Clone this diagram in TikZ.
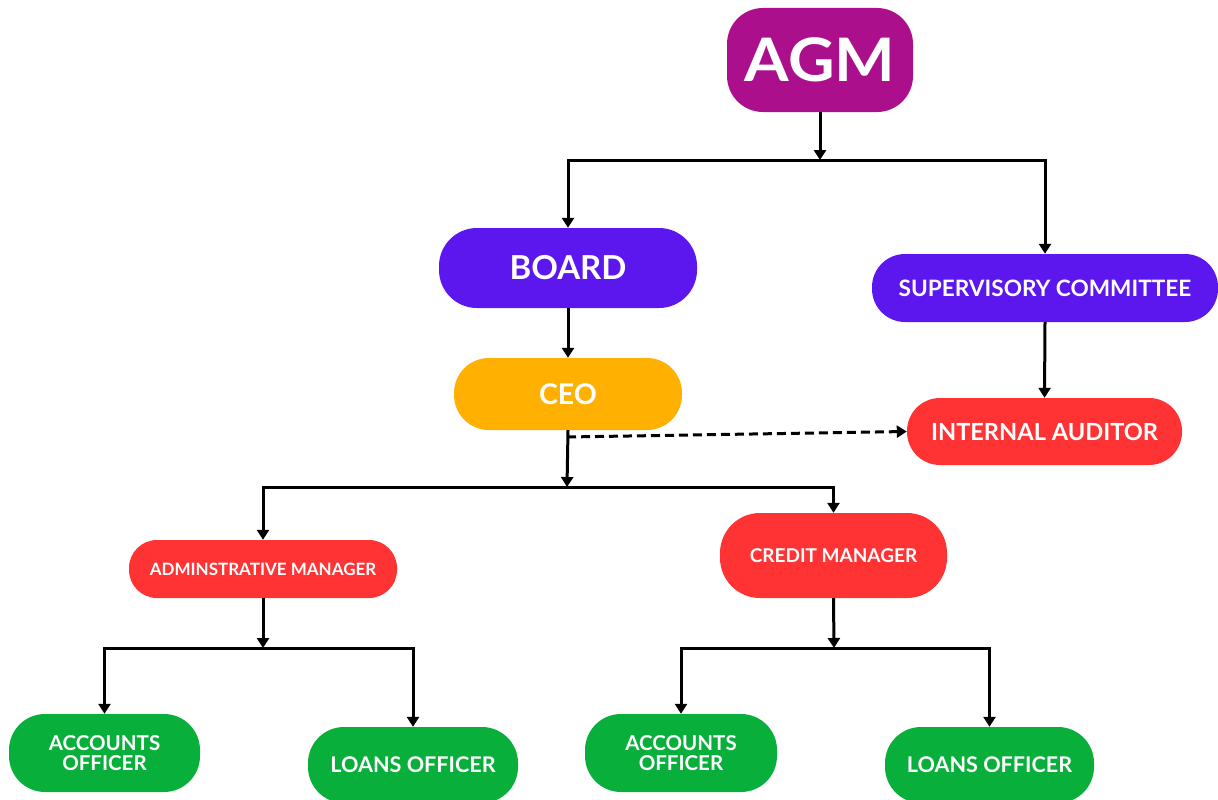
\documentclass[tikz,border=0pt]{standalone}
\usepackage{fontspec}
\setmainfont{Lato}
\usetikzlibrary{arrows.meta}
\definecolor{agmc}{HTML}{AB0F8B}
\definecolor{boardc}{HTML}{5C17EE}
\definecolor{ceoc}{HTML}{FFB000}
\definecolor{redc}{HTML}{FF3333}
\definecolor{greenc}{HTML}{08AF3B}
\tikzset{
  box/.style={rectangle, inner sep=0pt, text=white, font=\bfseries, align=center},
  arr/.style={line width=3pt, -{Triangle[width=12pt,length=10pt]}},
}
\begin{document}
\begin{tikzpicture}[x=1pt,y=-1pt]
\useasboundingbox (0,0) rectangle (1218,800);
\node[box, fill=agmc, minimum width=186pt, minimum height=104pt, rounded corners=36pt, font=\bfseries\fontsize{60}{62}\selectfont] (agm) at (820,60) {\scalebox{1.07}[1]{AGM}};
\node[box, fill=boardc, minimum width=258pt, minimum height=80pt, rounded corners=38pt, font=\bfseries\fontsize{33}{35}\selectfont] (board) at (568,268) {BOARD};
\node[box, fill=boardc, minimum width=346pt, minimum height=68pt, rounded corners=33pt, font=\bfseries\fontsize{22.6}{24}\selectfont] (sup) at (1045,288) {SUPERVISORY COMMITTEE};
\node[box, fill=ceoc, minimum width=228pt, minimum height=72pt, rounded corners=35pt, font=\bfseries\fontsize{28.5}{30}\selectfont] (ceo) at (568,394) {CEO};
\node[box, fill=redc, minimum width=275pt, minimum height=67pt, rounded corners=33pt, font=\bfseries\fontsize{23.6}{25}\selectfont] (ia) at (1044.5,431.5) {INTERNAL AUDITOR};
\node[box, fill=redc, minimum width=268pt, minimum height=58pt, rounded corners=28pt, font=\bfseries\fontsize{17}{19}\selectfont] (adm) at (263,569) {ADMINSTRATIVE MANAGER};
\node[box, fill=redc, minimum width=227pt, minimum height=85pt, rounded corners=40pt, font=\bfseries\fontsize{19}{21}\selectfont] (cm) at (833.5,555.5) {CREDIT MANAGER};
\node[box, fill=greenc, minimum width=191pt, minimum height=78pt, rounded corners=36pt, font=\bfseries\fontsize{20.5}{20.5}\selectfont] (ao1) at (104.5,753) {ACCOUNTS\\OFFICER};
\node[box, fill=greenc, minimum width=210pt, minimum height=76pt, rounded corners=36pt, font=\bfseries\fontsize{21.6}{23}\selectfont] (lo1) at (413,765) {LOANS OFFICER};
\node[box, fill=greenc, minimum width=192pt, minimum height=78pt, rounded corners=36pt, font=\bfseries\fontsize{20.5}{20.5}\selectfont] (ao2) at (681,753) {ACCOUNTS\\OFFICER};
\node[box, fill=greenc, minimum width=209pt, minimum height=76pt, rounded corners=36pt, font=\bfseries\fontsize{21.6}{23}\selectfont] (lo2) at (989.5,765) {LOANS OFFICER};
% junctions
\coordinate (j1) at (820,160);
\coordinate (j2) at (567,487);
\coordinate (j3) at (263,648);
\coordinate (j4) at (834,648);
\coordinate (d0) at (567,437);
% connectors
\draw[arr] (agm.south) -- (j1);
\draw[arr] (j1) -| (board.north);
\draw[arr] (j1) -| (sup.north);
\draw[arr] (board.south) -- (ceo.north);
\draw[arr] (sup.south) -- (ia.north);
\draw[arr, dash pattern=on 9pt off 5pt] (d0) -- (ia.west);
\draw[arr] (ceo.south) -- (j2);
\draw[arr] (j2) -| (adm.north);
\draw[arr] (j2) -| (cm.north);
\draw[arr] (adm.south) -- (j3);
\draw[arr] (j3) -| (ao1.north);
\draw[arr] (j3) -| (lo1.north);
\draw[arr] (cm.south) -- (j4);
\draw[arr] (j4) -| (ao2.north);
\draw[arr] (j4) -| (lo2.north);
\end{tikzpicture}
\end{document}
